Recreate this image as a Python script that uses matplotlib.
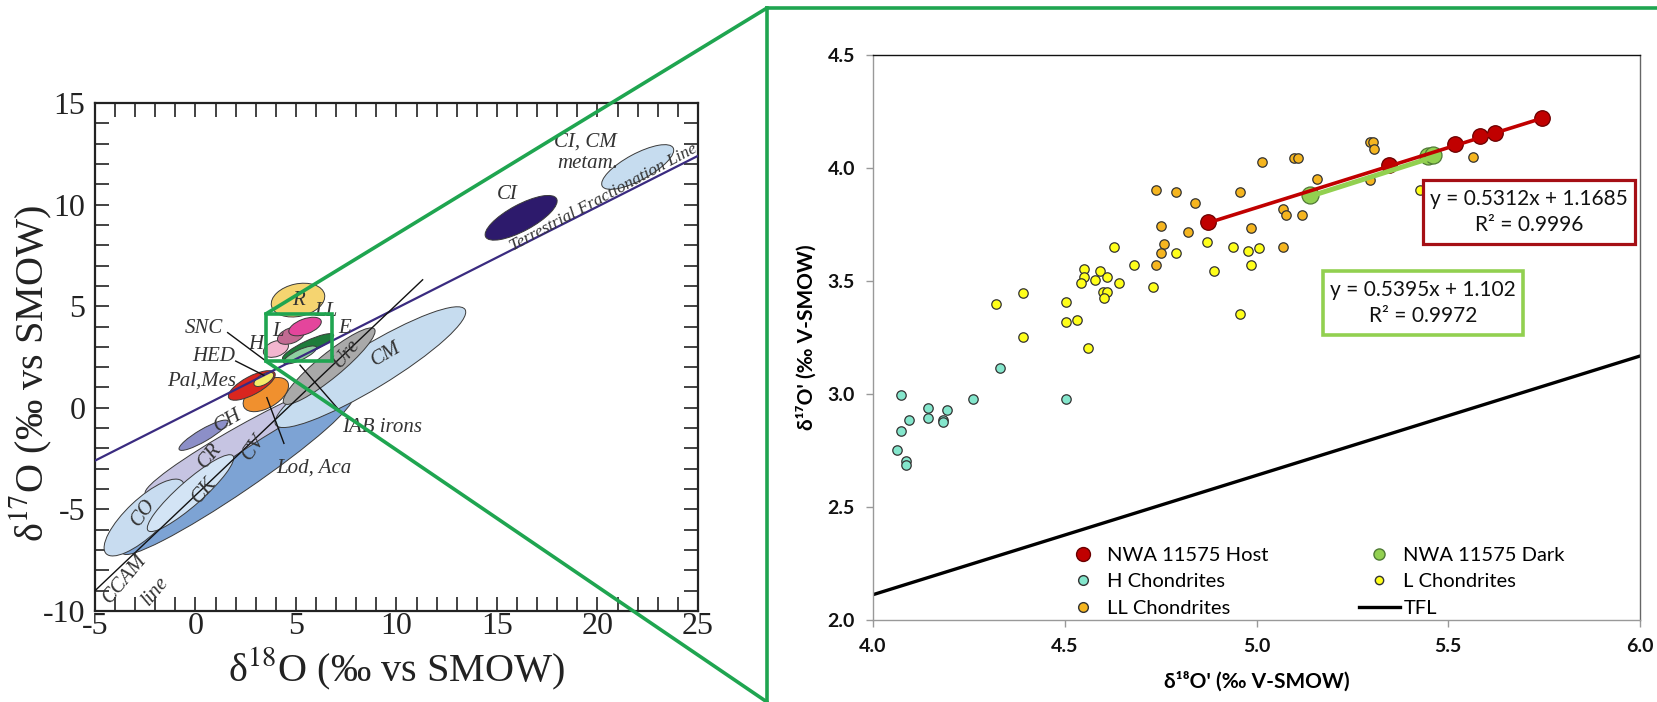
import numpy as np
import matplotlib
matplotlib.use('Agg')
import matplotlib.pyplot as plt
from matplotlib.patches import Ellipse, Rectangle, ConnectionPatch
from matplotlib.lines import Line2D
from matplotlib.ticker import MultipleLocator, FormatStrFormatter

plt.rcParams['axes.unicode_minus'] = False
plt.rcParams['mathtext.fontset'] = 'stix'
plt.rcParams['font.family'] = ['Liberation Serif', 'DejaVu Serif']

SANS = ['Lato', 'DejaVu Sans']

# ---------------- right panel data ----------------
host_x = [4.874, 5.345, 5.518, 5.583, 5.622, 5.744]
host_y = [3.761, 4.013, 4.106, 4.142, 4.155, 4.221]
dark_x = [5.140, 5.448, 5.461]
dark_y = [3.881, 4.053, 4.058]
h_x = [4.073, 4.144, 4.194, 4.144, 4.183, 4.183, 4.094, 4.073, 4.062, 4.085,
       4.085, 4.262, 4.332, 4.503]
h_y = [2.996, 2.939, 2.929, 2.895, 2.885, 2.875, 2.885, 2.836, 2.751, 2.704,
       2.686, 2.977, 3.115, 2.977]
l_x = [4.322, 4.390, 4.390, 4.503, 4.503, 4.531, 4.561, 4.551, 4.551, 4.542,
       4.579, 4.593, 4.610, 4.601, 4.610, 4.602, 4.641, 4.629, 4.680, 4.731,
       4.790, 4.871, 4.888, 4.939, 4.957, 4.978, 4.986, 5.007, 5.426]
l_y = [3.397, 3.448, 3.252, 3.406, 3.317, 3.326, 3.205, 3.553, 3.516, 3.492,
       3.506, 3.544, 3.516, 3.453, 3.453, 3.423, 3.492, 3.649, 3.572, 3.473,
       3.625, 3.673, 3.544, 3.649, 3.353, 3.634, 3.572, 3.644, 3.903]
ll_x = [4.739, 4.790, 4.840, 4.750, 4.821, 4.758, 4.750, 4.739, 4.957, 4.986,
        5.014, 5.099, 5.107, 5.157, 5.068, 5.076, 5.119, 5.068, 5.295, 5.305,
        5.306, 5.296, 5.565]
ll_y = [3.901, 3.892, 3.844, 3.744, 3.715, 3.663, 3.625, 3.572, 3.892, 3.735,
        4.025, 4.046, 4.046, 3.950, 3.818, 3.792, 3.792, 3.650, 4.114, 4.114,
        4.083, 3.949, 4.050]
tfl_x = [4.0, 6.0]
tfl_y = [2.112, 3.168]
host_fit = (0.5312, 1.1685)
dark_fit = (0.5395, 1.102)
host_eq = "y = 0.5312x + 1.1685\nR\u00b2 = 0.9996"
dark_eq = "y = 0.5395x + 1.102\nR\u00b2 = 0.9972"
legend_labels = ["NWA 11575 Host", "NWA 11575 Dark", "H Chondrites",
                 "L Chondrites", "LL Chondrites", "TFL"]

# ---------------- left panel data ----------------
ell_names = ["CI, CM metam.", "CR", "CV", "CO", "CK", "CH", "CM", "Ure",
             "Lod, Aca", "Pal,Mes", "HED", "H", "L", "LL", "E", "SNC", "R", "CI"]
ell_cx = [22.0, 2.4, 2.1, -2.55, -0.25, 0.4, 8.7, 6.65, 3.5, 2.8, 3.4, 4.0, 4.75,
          5.45, 5.6, 5.2, 5.1, 16.2]
ell_cy = [11.85, -1.5, -3.3, -5.4, -4.2, -1.35, 2.0, 2.05, 0.65, 1.1, 1.4, 2.9,
          3.55, 4.0, 3.0, 2.6, 5.3, 9.35]
ell_w = [4.0, 11.2, 13.8, 5.2, 5.6, 2.8, 11.0, 5.8, 2.5, 2.6, 1.1, 1.3, 1.4, 1.7,
         2.8, 1.8, 2.7, 4.0]
ell_h = [1.3, 1.3, 1.7, 1.8, 1.2, 0.6, 2.1, 1.2, 1.3, 0.9, 0.5, 0.75, 0.75,
         0.75, 0.6, 0.5, 1.6, 1.3]
ell_ang = [28, 29, 34, 43, 41, 30, 31, 39, 30, 28, 30, 20, 20, 20, 25, 25, 12, 28]
ell_col = ['#c6dcef', '#c6c4e2', '#7da3d4', '#c8dcf0', '#d3e4f5', '#8c8fc8',
           '#c6dcef', '#a9a9a9', '#f0902e', '#d9261f', '#f4ec6a', '#f3b6cf',
           '#c26a92', '#e4459c', '#1f7b3b', '#8fd0a0', '#f5d470', '#2d1a6c']
tfl_left_x = [-5, 25]
tfl_left_y = [-2.6, 12.4]
ccam_x = [-5, 11.3]
ccam_y = [-9.0, 6.3]

W, H = 1658, 702
fig = plt.figure(figsize=(W / 100, H / 100), dpi=100)
fig.patch.set_facecolor('white')

# ================= left panel =================
ax1 = fig.add_axes([95 / W, 1 - 611 / H, (698 - 95) / W, (611 - 103) / H])
ax1.set_xlim(-5, 25)
ax1.set_ylim(-10, 15)
ax1.xaxis.set_major_locator(MultipleLocator(5))
ax1.yaxis.set_major_locator(MultipleLocator(5))
ax1.xaxis.set_minor_locator(MultipleLocator(1))
ax1.yaxis.set_minor_locator(MultipleLocator(1))
ax1.tick_params(which='both', direction='in', top=True, right=True,
                length=10, width=1.2, labelsize=23, colors='#222222')
ax1.tick_params(axis='x', pad=1)
ax1.tick_params(axis='y', pad=7)
for s in ax1.spines.values():
    s.set_linewidth(1.6)
    s.set_color('#222222')

for i in range(len(ell_names)):
    e = Ellipse((ell_cx[i], ell_cy[i]), ell_w[i], ell_h[i], angle=ell_ang[i],
                facecolor=ell_col[i], edgecolor='#3a3a3a', lw=0.7, zorder=2 + i * 0.01)
    ax1.add_patch(e)

ax1.plot(tfl_left_x, tfl_left_y, color='#3a2b80', lw=1.6, zorder=3)
ax1.plot(ccam_x, ccam_y, color='#111111', lw=1.0, zorder=3)

# leader lines
leaders = [((1.6, 3.7), (4.05, 1.9)), ((2.0, 2.3), (3.4, 1.6)),
           ((4.4, -1.75), (3.55, 0.5)), ((7.35, -0.35), (5.2, 2.1))]
for (a, b) in leaders:
    ax1.plot([a[0], b[0]], [a[1], b[1]], color='#111111', lw=1.0, zorder=4)

lab_kw = dict(style='italic', color='#333333', zorder=5)
labels = [("CI, CM", 19.4, 13.1, 0), ("metam.", 19.5, 12.0, 0), ("CI", 15.5, 10.5, 0),
          ("R", 5.1, 5.3, 0), ("LL", 6.5, 4.75, 0), ("L", 4.1, 3.75, 0),
          ("H", 3.0, 3.1, 0), ("E", 7.4, 3.9, 0), ("SNC", 0.4, 3.9, 0),
          ("HED", 0.9, 2.5, 0), ("Pal,Mes", 0.3, 1.3, 0), ("CH", 1.6, -0.65, 30),
          ("CR", 0.7, -2.35, 50), ("CV", 2.9, -1.95, 55), ("CK", 0.45, -4.05, 50),
          ("CO", -2.6, -5.15, 55), ("Ure", 7.5, 2.65, 50), ("CM", 9.5, 2.65, 30),
          ("IAB irons", 9.3, -0.95, 0), ("Lod, Aca", 5.9, -2.95, 0),
          ("CCAM", -3.5, -8.4, 50), ("line", -2.0, -9.0, 50)]
for t, x, y, r in labels:
    ax1.text(x, y, t, ha='center', va='center', rotation=r, fontsize=15, **lab_kw)

# TFL label along the line
p0 = ax1.transData.transform((tfl_left_x[0], tfl_left_y[0]))
p1 = ax1.transData.transform((tfl_left_x[1], tfl_left_y[1]))
ang = np.degrees(np.arctan2(p1[1] - p0[1], p1[0] - p0[0]))
ax1.text(20.3, 10.35, "Terrestrial Fractionation Line", rotation=ang + 1.5,
         ha='center', va='center', rotation_mode='anchor', fontsize=12.5, **lab_kw)

# zoom box
ax1.add_patch(Rectangle((3.5, 2.3), 3.3, 2.32, fill=False, edgecolor='#1fa550',
                        lw=2.6, zorder=6))

ax1.set_xlabel("δ$^{18}$O (‰ vs SMOW)", fontsize=29, labelpad=3, color='#222222')
ax1.set_ylabel("δ$^{17}$O (‰ vs SMOW)", fontsize=29, labelpad=-8, color='#222222')
ax1.yaxis.label.set_y(0.467)

# ================= right panel =================
ax2 = fig.add_axes([873 / W, 1 - 620 / H, (1640 - 873) / W, (620 - 55) / H])
ax2.set_xlim(4.0, 6.0)
ax2.set_ylim(2.0, 4.5)
ax2.xaxis.set_major_locator(MultipleLocator(0.5))
ax2.yaxis.set_major_locator(MultipleLocator(0.5))
ax2.xaxis.set_major_formatter(FormatStrFormatter('%.1f'))
ax2.yaxis.set_major_formatter(FormatStrFormatter('%.1f'))
ax2.tick_params(direction='out', length=5, width=1, colors='#999999', pad=8)
for lab in ax2.get_xticklabels() + ax2.get_yticklabels():
    lab.set_family(SANS)
    lab.set_fontweight('bold')
    lab.set_fontsize(14)
    lab.set_color('#111111')
ax2.spines['top'].set_color('#111111')
ax2.spines['right'].set_color('#666666')
ax2.spines['left'].set_color('#999999')
ax2.spines['bottom'].set_color('#999999')
for s in ax2.spines.values():
    s.set_linewidth(1.0)

ax2.plot(tfl_x, tfl_y, color='black', lw=2.4, zorder=2)

sc_kw = dict(edgecolors='#333333', linewidths=0.9, zorder=3)
ax2.scatter(l_x, l_y, s=46, c='#ffff1a', **sc_kw)
ax2.scatter(ll_x, ll_y, s=46, c='#f5b51f', **sc_kw)
ax2.scatter(h_x, h_y, s=46, c='#84e6cc', **sc_kw)
ax2.scatter(host_x, host_y, s=125, c='#c00000', edgecolors='#6a0000', linewidths=0.9, zorder=4)
ax2.scatter(dark_x, dark_y, s=150, c='#92d050', edgecolors='#4f7a35', linewidths=0.9, zorder=4)

dx = np.array([min(dark_x), max(dark_x)])
ax2.plot(dx, dark_fit[0] * dx + dark_fit[1], color='#92d050', lw=3.6, zorder=5,
         solid_capstyle='butt')
hx = np.array([min(host_x), max(host_x)])
ax2.plot(hx, host_fit[0] * hx + host_fit[1], color='#c00000', lw=2.6, zorder=6,
         solid_capstyle='butt')

# equation boxes
ax2.add_patch(Rectangle((5.434, 3.664), 5.987 - 5.434, 3.947 - 3.664, fc='white',
                        ec='#a50f15', lw=2.3, zorder=7))
ax2.text((5.434 + 5.987) / 2, (3.664 + 3.947) / 2, host_eq, ha='center', va='center',
         family=SANS, fontsize=15, linespacing=1.4, color='#111111', zorder=8)
ax2.add_patch(Rectangle((5.173, 3.261), 5.694 - 5.173, 3.546 - 3.261, fc='white',
                        ec='#92d050', lw=2.6, zorder=7))
ax2.text((5.173 + 5.694) / 2, (3.261 + 3.546) / 2, dark_eq, ha='center', va='center',
         family=SANS, fontsize=15, linespacing=1.4, color='#111111', zorder=8)

handles = [
    Line2D([], [], ls='none', marker='o', ms=10, mfc='#c00000', mec='#6a0000'),
    Line2D([], [], ls='none', marker='o', ms=7, mfc='#84e6cc', mec='#333333'),
    Line2D([], [], ls='none', marker='o', ms=7, mfc='#f5b51f', mec='#333333'),
    Line2D([], [], ls='none', marker='o', ms=8, mfc='#92d050', mec='#4f7a35'),
    Line2D([], [], ls='none', marker='o', ms=6, mfc='#ffff1a', mec='#333333'),
    Line2D([], [], color='black', lw=2.4),
]
labs = [legend_labels[0], legend_labels[2], legend_labels[4],
        legend_labels[1], legend_labels[3], legend_labels[5]]
ax2.legend(handles, labs, ncol=2, loc='lower left', bbox_to_anchor=(0.247, 0.006),
           frameon=False, prop={'family': SANS, 'size': 14.5}, handlelength=2.04,
           handletextpad=0.17, columnspacing=4.5, labelspacing=0.45,
           borderpad=0, borderaxespad=0)

ax2.set_xlabel("δ¹⁸O' (‰ V-SMOW)", family=SANS, fontweight='bold', fontsize=15,
               labelpad=12)
ax2.set_ylabel("δ¹⁷O' (‰ V-SMOW)", family=SANS, fontweight='bold', fontsize=15,
               labelpad=8)

# ================= green frame and connectors =================
gcol = '#1fa550'
fig.add_artist(Line2D([767 / W, 767 / W], [0, 1 - 8 / H], transform=fig.transFigure,
                      color=gcol, lw=2.6))
fig.add_artist(Line2D([767 / W, 1.0], [1 - 8 / H, 1 - 8 / H], transform=fig.transFigure,
                      color=gcol, lw=2.6))
for ya, yb in [(4.62, 1 - 8 / H), (2.3, 0.0)]:
    cp = ConnectionPatch(xyA=(3.5, ya), coordsA=ax1.transData,
                         xyB=(767 / W, yb), coordsB=fig.transFigure,
                         color=gcol, lw=2.6, zorder=10)
    fig.add_artist(cp)

fig.savefig('out.png', dpi=100, facecolor='white')
